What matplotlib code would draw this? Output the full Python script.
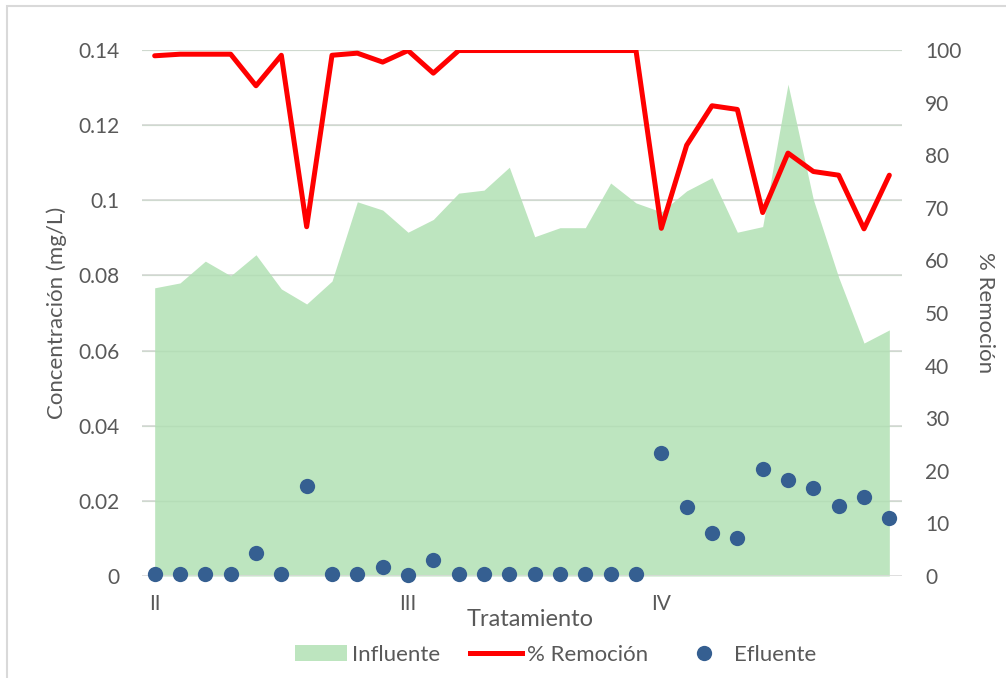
import matplotlib
matplotlib.use("Agg")
import matplotlib.pyplot as plt
import numpy as np
from matplotlib.patches import Patch, Rectangle
from matplotlib.lines import Line2D

plt.rcParams['font.family'] = ['Lato', 'DejaVu Sans']

# muestras (30 puntos), etiquetas de tratamiento cada 10
tick_pos = [0, 10, 20]
tick_labels = ["II", "III", "IV"]

influente = [0.0767, 0.0780, 0.0838, 0.0799, 0.0855, 0.0764, 0.0724, 0.0785,
             0.0996, 0.0974, 0.0915, 0.0949, 0.1019, 0.1027, 0.1088, 0.0903,
             0.0927, 0.0927, 0.1046, 0.0993, 0.0969, 0.1025, 0.1060, 0.0915,
             0.0930, 0.1309, 0.1002, 0.0795, 0.0620, 0.0655]

efluente = [0.0006, 0.0006, 0.0006, 0.0006, 0.0060, 0.0006, 0.0240, 0.0006,
            0.0006, 0.0023, 0.0002, 0.0043, 0.0004, 0.0004, 0.0004, 0.0004,
            0.0004, 0.0004, 0.0004, 0.0004, 0.0327, 0.0183, 0.0115, 0.0102,
            0.0285, 0.0255, 0.0234, 0.0186, 0.0210, 0.0155]

remocion = [98.9, 99.2, 99.2, 99.2, 93.2, 99.0, 66.4, 99.0, 99.4, 97.7,
            99.9, 95.6, 99.9, 99.9, 99.9, 99.9, 99.9, 99.9, 99.9, 99.9,
            66.1, 81.9, 89.4, 88.7, 69.1, 80.4, 76.9, 76.2, 66.0, 76.2]

GREEN = "#bde5bf"
RED = "#ff0000"
BLUE = "#355f91"
TXT = "#595959"
GRID = "#d9d9d9"

x = np.arange(len(influente))

fig = plt.figure(figsize=(10.06, 6.78), dpi=100)
ax = fig.add_axes([142 / 1006, 102 / 678, 760 / 1006, 526 / 678])
ax2 = ax.twinx()

ax.fill_between(x, 0, influente, color=GREEN, linewidth=0, zorder=1)
for v in np.arange(0.02, 0.141, 0.02):
    ax.axhline(v, color=GRID, lw=1.2, zorder=0.5)
    ax.axhline(v, color="#a0c8a2", lw=1.0, alpha=0.25, zorder=1.5)
ax.axhline(0, color=GRID, lw=1.2, zorder=2)
ax.plot(x, efluente, 'o', color=BLUE, markersize=11, markeredgewidth=0, zorder=5,
        clip_on=False)

ax2.plot(x, remocion, color=RED, lw=3.6, solid_joinstyle='round',
         solid_capstyle='round', zorder=4)

ax.set_xlim(-0.5, 29.5)
ax.set_ylim(0, 0.14)
ax2.set_ylim(0, 100)
ax.set_yticks(np.arange(0, 0.141, 0.02))
ax.set_yticklabels(["0", "0.02", "0.04", "0.06", "0.08", "0.1", "0.12", "0.14"])
ax2.set_yticks(range(0, 101, 10))
ax.set_xticks(tick_pos)
ax.set_xticklabels(tick_labels)

for a in (ax, ax2):
    for s in a.spines.values():
        s.set_visible(False)
    a.tick_params(length=0, colors=TXT, labelsize=15)
ax.tick_params(axis='y', pad=16)
ax2.tick_params(axis='y', pad=16.5)
ax.tick_params(axis='x', pad=13)

ax.set_ylabel("Concentración (mg/L)", color=TXT, fontsize=16, labelpad=8)
ax2.set_ylabel("% Remoción", color=TXT, fontsize=16, rotation=-90, labelpad=24)
fig.text(530 / 1006, 1 - 619 / 678, "Tratamiento", color=TXT, fontsize=17,
         ha='center', va='center')

handles = [Patch(facecolor=GREEN, edgecolor='none'),
           Line2D([], [], color=RED, lw=3.6),
           Line2D([], [], marker='o', color=BLUE, linestyle='none', markersize=11,
                  markeredgewidth=0)]
leg = fig.legend(handles, ["Influente", "% Remoción", "Efluente"], loc='center',
                 bbox_to_anchor=(556 / 1006, 1 - 655 / 678), ncol=3, frameon=False,
                 fontsize=16, handlelength=2.35, handletextpad=0.2,
                 columnspacing=1.35)
for t in leg.get_texts():
    t.set_color(TXT)

# borde del área del gráfico
fig.patches.append(Rectangle((7 / 1006, -0.1), 1.2, 1 - 6 / 678 + 0.1,
                             transform=fig.transFigure, fill=False,
                             edgecolor=GRID, lw=1.5))

fig.savefig("out.png", dpi=100)
